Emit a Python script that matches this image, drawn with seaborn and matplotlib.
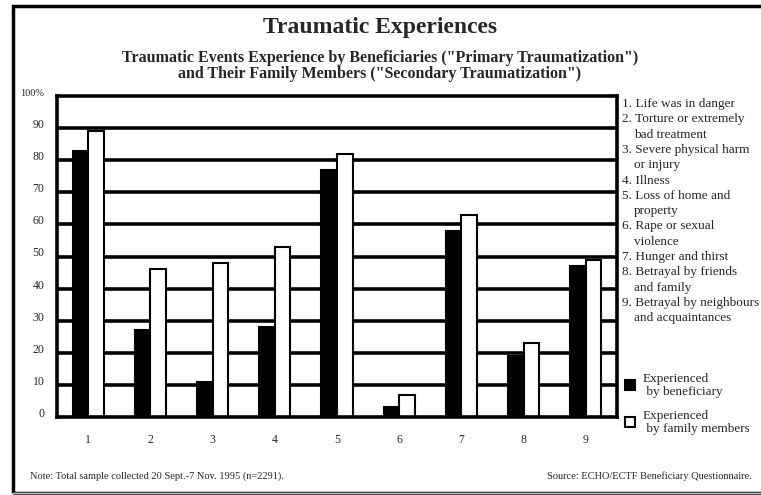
import pandas as pd
import seaborn as sns
import matplotlib.pyplot as plt
from matplotlib.patches import Rectangle

# Data (percent)
events = ['1', '2', '3', '4', '5', '6', '7', '8', '9']
beneficiary = [83, 27, 11, 28, 77, 3, 58, 19, 47]
family = [89, 46, 48, 53, 82, 7, 63, 23, 49]
series_names = ['Experienced\n by beneficiary', 'Experienced\n by family members']
event_labels = [
    ['1. Life was in danger'],
    ['2. Torture or extremely', 'bad treatment'],
    ['3. Severe physical harm', 'or injury'],
    ['4. Illness'],
    ['5. Loss of home and', 'property'],
    ['6. Rape or sexual', 'violence'],
    ['7. Hunger and thirst'],
    ['8. Betrayal by friends', 'and family'],
    ['9. Betrayal by neighbours', 'and acquaintances'],
]
yticks = [0, 10, 20, 30, 40, 50, 60, 70, 80, 90, 100]
ytick_labels = ['0', '10', '20', '30', '40', '50', '60', '70', '80', '90', '100%']

df = pd.DataFrame({
    'event': events * 2,
    'value': beneficiary + family,
    'group': [series_names[0]] * len(events) + [series_names[1]] * len(events),
})

sns.set_style('white')
plt.rcParams['font.family'] = ['Liberation Serif', 'DejaVu Serif']

W, H = 761, 495
fig = plt.figure(figsize=(W / 100, H / 100), dpi=100)

# outer frame
fig.patches.append(Rectangle((13 / W, 1 - 493 / H), 1.0, 487 / H, transform=fig.transFigure,
                             fill=False, edgecolor='black', lw=2.5, zorder=0))
fig.patches.append(Rectangle((13 / W, 1 - 493 / H), 1.0, 0.0, transform=fig.transFigure,
                             fill=False, edgecolor='#bbbbbb', lw=1, zorder=1))

ax = fig.add_axes([57 / W, 1 - 417 / H, 560 / W, 321 / H])

# grid lines behind the bars
for y in yticks[1:-1]:
    ax.axhline(y, color='black', lw=2.6, zorder=0)

sns.barplot(data=df, x='event', y='value', hue='group', palette=['black', 'white'],
            edgecolor='black', linewidth=1.5, width=0.5, ax=ax)
for p in ax.patches:
    p.set_zorder(3)

ax.set_ylim(0, 100)
ax.set_xlim(-0.5, 8.5)
ax.set_xlabel('')
ax.set_ylabel('')
for s in ax.spines.values():
    s.set_linewidth(2.6)
    s.set_color('black')
    s.set_zorder(4)

ax.set_yticks(yticks)
ax.set_yticklabels(ytick_labels, fontsize=8.5)
for lab in ax.get_yticklabels():
    lab.set_verticalalignment('baseline')
ax.get_yticklabels()[-1].set_fontsize(7.5)
ax.tick_params(axis='y', length=0, pad=9)
ax.tick_params(axis='x', length=0, pad=12, labelsize=8.5)

# legend for the two series
handles, labels = ax.get_legend_handles_labels()
ax.legend(handles, series_names, loc='upper left', bbox_to_anchor=(618 / W, 1 - 366 / H),
          bbox_transform=fig.transFigure, frameon=False, fontsize=9.5,
          handlelength=0.8, handleheight=0.8, handletextpad=0.6, labelspacing=0.85,
          borderpad=0)

# numbered event list on the right
y = 104
for lines in event_labels:
    for i, line in enumerate(lines):
        x = 622 if i == 0 else 634
        fig.text(x / W, 1 - y / H, line, fontsize=9.5, va='center', ha='left')
        y += 15.3

fig.text(380 / W, 1 - 27 / H, 'Traumatic Experiences', fontsize=17, fontweight='bold',
         ha='center', va='center')
fig.text(380 / W, 1 - 66 / H,
         'Traumatic Events Experience by Beneficiaries ("Primary Traumatization")\n'
         'and Their Family Members ("Secondary Traumatization")',
         fontsize=11.5, fontweight='bold', ha='center', va='center', linespacing=1.0)

fig.text(30 / W, 1 - 476 / H, 'Note: Total sample collected 20 Sept.-7 Nov. 1995 (n=2291).',
         fontsize=7.5, ha='left', va='center')
fig.text(752 / W, 1 - 476 / H, 'Source: ECHO/ECTF Beneficiary Questionnaire.',
         fontsize=7.5, ha='right', va='center')

fig.savefig('out.png', dpi=100)
